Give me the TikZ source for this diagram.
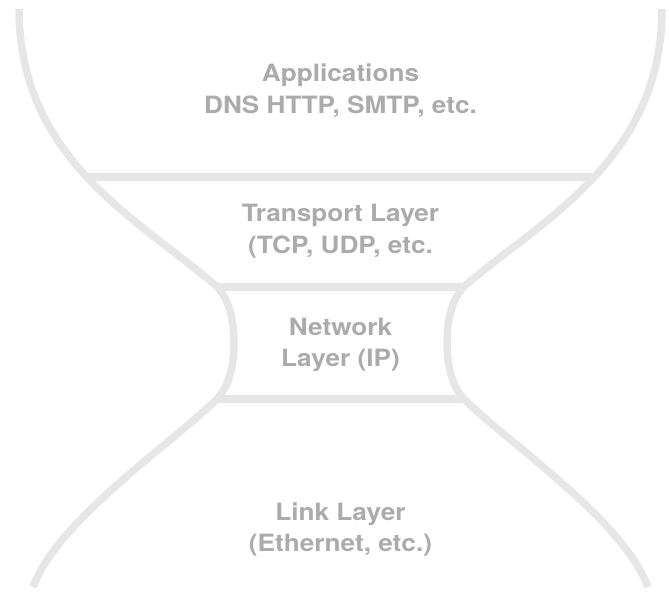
\documentclass[tikz,border=0pt]{standalone}
\usepackage{fontspec}
\setmainfont[FakeStretch=1.1]{TeX Gyre Heros}
\definecolor{glassline}{HTML}{E6E6E6}
\definecolor{layertext}{HTML}{ABABAB}

\begin{document}
\begin{tikzpicture}[x=1pt,y=-1pt,
  glass/.style={line width=7.5pt,draw=glassline},
  every node/.style={anchor=base,text=layertext,font=\fontsize{23.8}{31.5}\selectfont\bfseries}]
\useasboundingbox (0,0) rectangle (669,604);
% the two sides of the glass
\draw[glass] (19,9) .. controls (19,160) and (140,220) .. (215,285)
             .. controls (228,296) and (234,318) .. (234,342)
             .. controls (234,366) and (229,387) .. (216,400)
             .. controls (170,445) and (58,520) .. (33,587);
\draw[glass] (662,9) .. controls (662,160) and (541,220) .. (466,285)
              .. controls (453,296) and (447,318) .. (447,342)
              .. controls (447,366) and (452,387) .. (465,400)
              .. controls (511,445) and (623,520) .. (648,587);
% layer borders
\coordinate (l1) at (88,177);
\coordinate (r1) at (593,177);
\coordinate (l2) at (217,287);
\coordinate (r2) at (464,287);
\coordinate (l3) at (217,399);
\coordinate (r3) at (464,399);
\draw[glass] (l1) -- (r1);
\draw[glass] (l2) -- (r2);
\draw[glass] (l3) -- (r3);
% layer names
\node (app)   at (340.5,81.7)  {Applications};
\node (appx)  at (340.5,113.2) {DNS HTTP, SMTP, etc.};
\node (trn)   at (340.5,221.7) {Transport Layer};
\node (trnx)  at (340.5,253.2) {(TCP, UDP, etc.};
\node (net)   at (340.5,335.2) {Network};
\node (netx)  at (340.5,366.7) {Layer (IP)};
\node (lnk)   at (340.5,520.2) {Link Layer};
\node (lnkx)  at (340.5,551.7) {(Ethernet, etc.)};
\end{tikzpicture}
\end{document}
